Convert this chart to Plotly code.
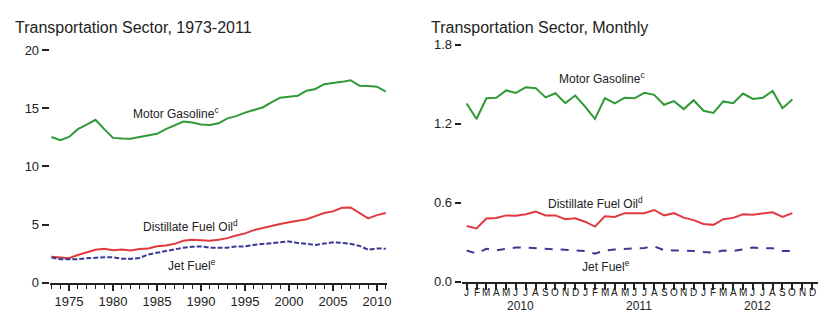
import plotly.graph_objects as go

# ---------------- Data ----------------
years = list(range(1973, 2012))
motor_gasoline_annual = [12.53, 12.26, 12.53, 13.20, 13.58, 14.00, 13.20, 12.45, 12.40, 12.37,
                         12.53, 12.65, 12.80, 13.20, 13.55, 13.85, 13.77, 13.60, 13.55, 13.70,
                         14.13, 14.32, 14.62, 14.87, 15.06, 15.50, 15.90, 15.99, 16.07, 16.50,
                         16.65, 17.06, 17.14, 17.26, 17.40, 16.93, 16.90, 16.85, 16.43]
distillate_annual = [2.25, 2.20, 2.11, 2.39, 2.63, 2.85, 2.93, 2.80, 2.87, 2.78,
                     2.90, 2.96, 3.15, 3.20, 3.35, 3.62, 3.70, 3.68, 3.62, 3.70,
                     3.84, 4.06, 4.25, 4.53, 4.72, 4.88, 5.05, 5.21, 5.32, 5.46,
                     5.73, 6.00, 6.14, 6.45, 6.47, 6.04, 5.54, 5.82, 6.00]
jet_fuel_annual = [2.17, 2.03, 2.03, 2.03, 2.11, 2.17, 2.20, 2.20, 2.08, 2.06,
                   2.14, 2.44, 2.58, 2.74, 2.90, 3.02, 3.10, 3.13, 3.02, 3.02,
                   3.02, 3.13, 3.13, 3.26, 3.35, 3.38, 3.48, 3.56, 3.43, 3.35,
                   3.26, 3.38, 3.48, 3.43, 3.35, 3.18, 2.85, 2.96, 2.93]

month_letters = ["J", "F", "M", "A", "M", "J", "J", "A", "S", "O", "N", "D"] * 3
month_index = list(range(34))  # Jan 2010 .. Oct 2012
motor_gasoline_monthly = [1.355, 1.237, 1.394, 1.398, 1.454, 1.435, 1.478, 1.471, 1.401, 1.432, 1.357, 1.415,
                          1.331, 1.237, 1.396, 1.355, 1.398, 1.394, 1.435, 1.420, 1.345, 1.372, 1.312, 1.379,
                          1.299, 1.283, 1.370, 1.357, 1.430, 1.389, 1.398, 1.449, 1.319, 1.384]
distillate_monthly = [0.425, 0.406, 0.481, 0.486, 0.505, 0.502, 0.514, 0.534, 0.505, 0.505, 0.476, 0.483,
                      0.457, 0.420, 0.498, 0.493, 0.522, 0.522, 0.522, 0.546, 0.505, 0.522, 0.488, 0.469,
                      0.440, 0.433, 0.476, 0.486, 0.514, 0.510, 0.522, 0.529, 0.493, 0.522]
jet_fuel_monthly = [0.239, 0.215, 0.251, 0.239, 0.251, 0.261, 0.261, 0.256, 0.249, 0.249, 0.239, 0.239,
                    0.234, 0.215, 0.239, 0.246, 0.251, 0.258, 0.258, 0.270, 0.241, 0.239, 0.239, 0.234,
                    0.227, 0.222, 0.239, 0.234, 0.246, 0.261, 0.256, 0.256, 0.234, 0.234]
year_labels = ["2010", "2011", "2012"]

GREEN = "#2f9a35"
RED = "#e0393e"
NAVY = "#3a3a94"
FONT = "Liberation Sans, Arial, sans-serif"
TXT = "#222222"

W, H = 829, 330

def px_x(p):
    return p / W

def px_y(p):
    return 1 - p / H

fig = go.Figure()

# Left chart
fig.add_trace(go.Scatter(x=years, y=motor_gasoline_annual, mode="lines",
                         line=dict(color=GREEN, width=2), xaxis="x", yaxis="y"))
fig.add_trace(go.Scatter(x=years, y=distillate_annual, mode="lines",
                         line=dict(color=RED, width=2), xaxis="x", yaxis="y"))
fig.add_trace(go.Scatter(x=years, y=jet_fuel_annual, mode="lines",
                         line=dict(color=NAVY, width=2, dash="5px,2px"), xaxis="x", yaxis="y"))

# Right chart
fig.add_trace(go.Scatter(x=month_index, y=motor_gasoline_monthly, mode="lines",
                         line=dict(color=GREEN, width=2), xaxis="x2", yaxis="y2"))
fig.add_trace(go.Scatter(x=month_index, y=distillate_monthly, mode="lines",
                         line=dict(color=RED, width=2), xaxis="x2", yaxis="y2"))
fig.add_trace(go.Scatter(x=month_index, y=jet_fuel_monthly, mode="lines",
                         line=dict(color=NAVY, width=2, dash="8px,8px"), xaxis="x2", yaxis="y2"))

annotations = [
    dict(text="Transportation Sector, 1973-2011", xref="paper", yref="paper",
         x=px_x(13), y=px_y(21), xanchor="left", yanchor="middle", showarrow=False,
         font=dict(size=16, color=TXT, family=FONT)),
    dict(text="Transportation Sector, Monthly", xref="paper", yref="paper",
         x=px_x(432), y=px_y(21), xanchor="left", yanchor="middle", showarrow=False,
         font=dict(size=16, color=TXT, family=FONT)),
    dict(text="Motor Gasoline<sup>c</sup>", xref="x", yref="y", x=1987.2, y=14.6,
         showarrow=False, font=dict(size=12, color=TXT, family=FONT)),
    dict(text="Distillate Fuel Oil<sup>d</sup>", xref="x", yref="y", x=1988.8, y=4.85,
         showarrow=False, font=dict(size=12, color=TXT, family=FONT)),
    dict(text="Jet Fuel<sup>e</sup>", xref="x", yref="y", x=1989.0, y=1.55,
         showarrow=False, font=dict(size=12, color=TXT, family=FONT)),
    dict(text="Motor Gasoline<sup>c</sup>", xref="x2", yref="y2", x=13.7, y=1.545,
         showarrow=False, font=dict(size=12, color=TXT, family=FONT)),
    dict(text="Distillate Fuel Oil<sup>d</sup>", xref="x2", yref="y2", x=13.1, y=0.60,
         showarrow=False, font=dict(size=12, color=TXT, family=FONT)),
    dict(text="Jet Fuel<sup>e</sup>", xref="x2", yref="y2", x=14.1, y=0.12,
         showarrow=False, font=dict(size=12, color=TXT, family=FONT)),
]
for i, yl in enumerate(year_labels):
    annotations.append(dict(text=yl, xref="x2", yref="paper", x=12 * i + 5.5, y=px_y(313),
                            yanchor="middle", showarrow=False,
                            font=dict(size=12, color=TXT, family=FONT)))
for i, ml in enumerate(month_letters):
    annotations.append(dict(text=ml, xref="x2", yref="paper", x=i, y=px_y(299),
                            yanchor="middle", showarrow=False,
                            font=dict(size=10, color=TXT, family=FONT)))

fig.update_layout(
    width=W, height=H,
    margin=dict(l=0, r=0, t=0, b=0),
    paper_bgcolor="white", plot_bgcolor="white",
    showlegend=False,
    font=dict(family=FONT, color=TXT),
    annotations=annotations,
    xaxis=dict(domain=[px_x(50), px_x(389)], range=[1972.8, 2011.1],
               showline=True, linecolor="#222", linewidth=1.5,
               ticks="outside", tickvals=[1975, 1980, 1985, 1990, 1995, 2000, 2005, 2010],
               ticklen=6, tickwidth=1.5, tickcolor="#222",
               minor=dict(tickvals=years, ticks="outside", ticklen=4, tickwidth=1.2, tickcolor="#222"),
               showgrid=False, zeroline=False,
               tickfont=dict(size=13, color=TXT, family=FONT)),
    yaxis=dict(domain=[px_y(289), px_y(45)], range=[0, 20],
               tickvals=[0, 5, 10, 15, 20], ticks="outside", ticklen=7, tickwidth=2,
               tickcolor="#222", showline=False, showgrid=False, zeroline=False,
               tickfont=dict(size=13, color=TXT, family=FONT)),
    xaxis2=dict(domain=[px_x(464.5), px_x(823)], range=[-0.5, 35.6],
                showline=True, linecolor="#222", linewidth=1.5,
                ticks="outside", tickvals=list(range(36)), showticklabels=False,
                ticklen=6, tickwidth=1.5, tickcolor="#222",
                showgrid=False, zeroline=False, anchor="y2"),
    yaxis2=dict(domain=[px_y(288), px_y(39.6)], range=[0, 1.8],
                tickvals=[0, 0.6, 1.2, 1.8], tickformat=".1f", ticks="outside", ticklen=6,
                tickwidth=2, tickcolor="#222", showline=False, showgrid=False, zeroline=False,
                anchor="x2", tickfont=dict(size=13, color=TXT, family=FONT)),
)

fig.write_html("out.html")
